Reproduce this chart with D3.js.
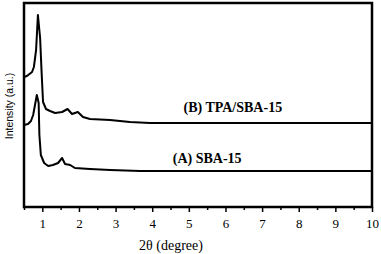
<!DOCTYPE html>
<html>
<head>
<meta charset="utf-8">
<script src="https://cdn.jsdelivr.net/npm/d3@7"></script>
<style>
  body { margin: 0; background: #fff; }
  svg { display: block; }
  .curve { fill: none; stroke: #000; stroke-width: 2px; stroke-linejoin: round; }
  .label { font-family: "Liberation Serif", "Times New Roman", serif; font-weight: bold; font-size: 14px; text-anchor: middle; }
  .axistitle { font-family: "Liberation Serif", "Times New Roman", serif; font-size: 14px; text-anchor: middle; }
  .ytitle { font-family: "Liberation Sans", Arial, sans-serif; font-size: 10.5px; text-anchor: middle; }
</style>
</head>
<body>
<svg id="xrd" width="381" height="254"></svg>
<script>
// 2theta (degree) and intensity (a.u.)
const twoThetaB = [0.50, 0.58, 0.72, 0.77, 0.83, 0.88, 0.94, 0.98, 1.02, 1.10, 1.21, 1.35, 1.54, 1.69, 1.81, 1.97, 2.11, 2.30, 2.85, 3.39, 3.94, 5.0, 7.0, 10.0];
const intensityB = [130, 131, 135, 140, 157, 192, 169, 135, 105, 98, 96, 94, 95, 98, 93, 95, 90, 88, 87, 85, 84, 84, 84, 84];

const twoThetaA = [0.50, 0.61, 0.69, 0.75, 0.80, 0.85, 0.90, 0.92, 0.96, 1.05, 1.16, 1.29, 1.43, 1.54, 1.62, 1.76, 1.89, 2.30, 2.85, 3.67, 5.0, 7.0, 10.0];
const intensityA = [82, 83, 86, 92, 102, 112, 104, 72, 52, 44, 41, 42, 44, 49, 43, 42, 39, 38, 37, 36, 36, 36, 36];

const xTicks = [1, 2, 3, 4, 5, 6, 7, 8, 9, 10];
const xMinorTicks = [0.5, 1.5, 2.5, 3.5, 4.5, 5.5, 6.5, 7.5, 8.5, 9.5];

const labels = [
    {text: "(B) TPA/SBA-15", x: 6.2, y: 95},
    {text: "(A) SBA-15", x: 5.5, y: 44}
];

let g = d3.select("#xrd");
let xScale = d3.scaleLinear().domain([0.5, 10]).range([24, 372]);
let yScale = d3.scaleLinear().domain([0, 204]).range([207, 3]);

// minor ticks
let xMinor = d3.axisBottom(xScale).tickValues(xMinorTicks).tickSize(3).tickFormat("");
g.append("g").attr("transform", "translate(0,207)").call(xMinor)
    .call(a => a.select(".domain").remove())
    .selectAll("line").attr("stroke-width", 1.5);

let xAxis = d3.axisBottom(xScale).tickValues(xTicks).tickSize(5).tickPadding(7);
g.append("g").attr("transform", "translate(0,207)").call(xAxis)
    .attr("font-family", "'Liberation Serif', 'Times New Roman', serif").attr("font-size", 13)
    .call(a => a.select(".domain").remove())
    .selectAll("line").attr("stroke-width", 1.5);

// frame
g.append("rect").attr("x", 24).attr("y", 3).attr("width", 348).attr("height", 204)
    .attr("fill", "none").attr("stroke", "#000").attr("stroke-width", 2.5);

let line = d3.line().x(d => xScale(d[0])).y(d => yScale(d[1]));
g.append("path").attr("class", "curve").attr("d", line(d3.zip(twoThetaB, intensityB)));
g.append("path").attr("class", "curve").attr("d", line(d3.zip(twoThetaA, intensityA)));

g.selectAll(".label").data(labels).join("text").attr("class", "label")
    .attr("x", d => xScale(d.x)).attr("y", d => yScale(d.y)).text(d => d.text);

g.append("text").attr("class", "axistitle").attr("x", 171).attr("y", 250).text("2θ (degree)");
g.append("text").attr("class", "ytitle")
    .attr("transform", "translate(13,106) rotate(-90)").text("Intensity (a.u.)");
</script>
</body>
</html>
